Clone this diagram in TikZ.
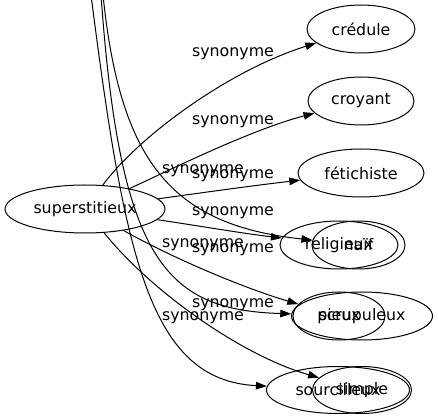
\documentclass[tikz,border=0pt]{standalone}
\usepackage{fontspec}
\setmainfont{DejaVu Sans}
\usetikzlibrary{arrows.meta,shapes.geometric}
\begin{document}
\begin{tikzpicture}[x=1pt,y=-1pt,
  word/.style={ellipse,draw,line width=1pt,inner sep=0pt,font=\fontsize{15.8}{19}\selectfont},
  lbl/.style={inner sep=0pt,font=\fontsize{15.8}{19}\selectfont},
  syn/.style={line width=1pt,-{Triangle[length=11pt,width=7.5pt]}}]
\useasboundingbox (0,0) rectangle (439,419);
\clip (0,0) rectangle (439,419);
% nodes
\node[word,minimum width=160pt,minimum height=48pt] (sup) at (85,209) {superstitieux};
\node[word,minimum width=108pt,minimum height=48pt] (cred) at (361,29) {crédule};
\node[word,minimum width=106pt,minimum height=48pt] (croy) at (361,101) {croyant};
\node[word,minimum width=126pt,minimum height=48pt] (feti) at (361,173) {fétichiste};
\node[word,minimum width=118pt,minimum height=48pt] (reli) at (339,245) {religieux};
\node[word,minimum width=93pt,minimum height=48pt] (naif) at (358.5,245) {naïf};
\node[word,minimum width=141pt,minimum height=48pt] (scru) at (362,316) {scrupuleux};
\node[word,minimum width=92pt,minimum height=48pt] (pieu) at (339,316) {pieux};
\node[word,minimum width=143pt,minimum height=47pt] (sourc) at (338,390) {sourcilleux};
\node[word,minimum width=99pt,minimum height=47pt] (simp) at (362,390) {simple};
% free ends above the frame
\coordinate (t1) at (91,-5);
\coordinate (t2) at (101,-5);
\coordinate (t3) at (103,-5);
% edges
\draw[syn] (sup) .. controls (140,135) and (230,70) .. (cred);
\draw[syn] (sup) .. controls (170,170) and (250,130) .. (croy);
\draw[syn] (sup) .. controls (200,193) and (250,186) .. (feti);
\draw[syn] (sup) .. controls (200,226) and (240,233) .. (reli);
\draw[syn] (t3) .. controls (120,160) and (170,225) .. (naif);
\draw[syn] (sup) .. controls (180,262) and (250,290) .. (pieu);
\draw[syn] (t2) .. controls (120,260) and (165,310) .. (scru);
\draw[syn] (sup) .. controls (150,290) and (240,355) .. (simp);
\draw[syn] (t1) .. controls (125,260) and (150,380) .. (sourc);
% labels
\node[lbl] (l1) at (233,54) {synonyme};
\node[lbl] (l2) at (233,122) {synonyme};
\node[lbl] (l3) at (203,171) {synonyme};
\node[lbl] (l4) at (233,176) {synonyme};
\node[lbl] (l5) at (233,213) {synonyme};
\node[lbl] (l6) at (203,245) {synonyme};
\node[lbl] (l7) at (233,250) {synonyme};
\node[lbl] (l8) at (233,305) {synonyme};
\node[lbl] (l9) at (203,318) {synonyme};
\end{tikzpicture}
\end{document}
